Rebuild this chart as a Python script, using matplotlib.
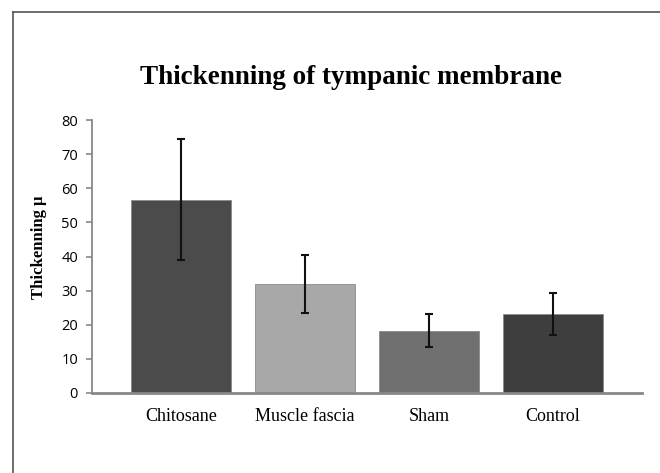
import matplotlib
matplotlib.use('Agg')
import matplotlib.pyplot as plt
from matplotlib.lines import Line2D

# data
groups = ['Chitosane', 'Muscle fascia', 'Sham', 'Control']
thickness = [56.6, 31.9, 18.3, 23.1]
errors = [17.7, 8.5, 4.8, 6.1]
bar_colors = ['#4b4b4b', '#a8a8a8', '#707070', '#3e3e3e']
yticks = [0, 10, 20, 30, 40, 50, 60, 70, 80]

W, H = 660, 473
fig = plt.figure(figsize=(6.6, 4.73), dpi=100)
ax = fig.add_axes([92 / W, 1 - 393 / H, 550 / W, 273 / H])

x = range(len(groups))
ax.bar(x, thickness, width=0.81, color=bar_colors, edgecolor='#8a8a8a', linewidth=0.6, zorder=2)
ax.errorbar(x, thickness, yerr=errors, fmt='none', ecolor='#111111',
            elinewidth=1.5, capsize=3.2, capthick=1.5, zorder=3)

ax.set_xlim(-0.72, 3.72)
ax.set_ylim(0, 80)
ax.set_yticks(yticks)
ax.set_yticklabels([str(t) for t in yticks], fontfamily='Open Sans', fontsize=10.5)
ax.set_xticks(list(x))
ax.set_xticklabels(groups, fontfamily='Liberation Serif', fontsize=13)
ax.tick_params(axis='x', length=0, pad=11)
ax.tick_params(axis='y', length=4, width=1.2, color='#888888', pad=6)

for s in ['top', 'right']:
    ax.spines[s].set_visible(False)
ax.spines['left'].set_color('#888888')
ax.spines['left'].set_linewidth(1.3)
ax.spines['bottom'].set_color('#888888')
ax.spines['bottom'].set_linewidth(2)

ax.set_ylabel('Thickenning µ', fontfamily='Liberation Serif', fontweight='bold', fontsize=12)
ax.yaxis.set_label_coords((47 - 92) / 550, (393 - 247) / 273)

fig.text(351 / W, 1 - 77 / H, 'Thickenning of tympanic membrane', ha='center', va='center',
         fontfamily='Liberation Serif', fontweight='bold', fontsize=19.5)

# outer frame of the original figure
fig.add_artist(Line2D([13 / W, 13 / W], [0, 1 - 12 / H], transform=fig.transFigure,
                      color='#555555', linewidth=1.2))
fig.add_artist(Line2D([13 / W, 1], [1 - 12 / H, 1 - 12 / H], transform=fig.transFigure,
                      color='#555555', linewidth=1.2))

fig.savefig('out.png', dpi=100)
